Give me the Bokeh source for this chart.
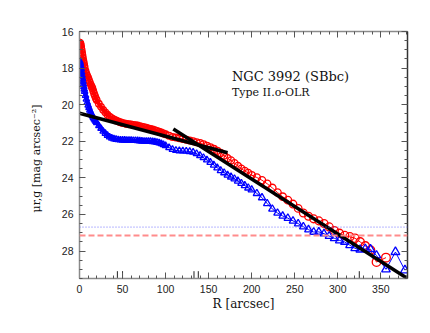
from bokeh.plotting import figure
from bokeh.models import (LinearAxis, SingleIntervalTicker, Label, Span, Range1d, CustomLabelingPolicy)
from bokeh.embed import file_html
from bokeh.resources import INLINE

# ---- data ----
R_r = [0, 0.5, 1, 1.5, 2, 2.5, 3, 3.5, 4, 4.5, 5, 5.5, 6, 7, 8, 9, 10, 11, 12, 13, 14, 15, 16, 17, 18, 19, 20,
       22.5, 25, 27.5, 30, 32.5, 35, 37.5, 40, 42.5, 45, 47.5, 50, 52.5, 55, 57.5, 60, 62.5, 65, 67.5, 70,
       72.5, 75, 77.5, 80, 82.5, 85, 87.5, 90, 92.5, 95, 97.5, 100,
       104, 108, 112, 116, 120, 124, 128, 132, 136, 140, 144, 148, 152, 156, 160, 164, 168, 172, 176, 180,
       184, 188, 192, 196, 200, 206, 212, 218, 224, 230, 236, 242, 248, 254, 260, 266, 272, 278, 284, 290,
       296, 302, 308, 314, 320, 326, 332, 338, 345, 356]
mu_r = [16.60, 16.62, 16.65, 16.72, 16.85, 17.0, 17.15, 17.3, 17.45, 17.6, 17.72, 17.84, 17.95, 18.15, 18.3,
        18.42, 18.52, 18.65, 18.78, 18.9, 19.0, 19.1, 19.25, 19.4, 19.52, 19.65, 19.75,
        19.95, 20.12, 20.28, 20.42, 20.55, 20.65, 20.73, 20.8, 20.86, 20.92, 20.96, 21.0, 21.03, 21.05, 21.07,
        21.08, 21.1, 21.12, 21.14, 21.17, 21.2, 21.23, 21.26, 21.3, 21.33, 21.36, 21.4, 21.44, 21.48, 21.52,
        21.57, 21.62,
        21.7, 21.76, 21.8, 21.84, 21.88, 21.92, 21.96, 22.0, 22.05, 22.1, 22.17, 22.25, 22.33, 22.42, 22.52,
        22.64, 22.78, 22.92, 23.05, 23.2, 23.35, 23.5, 23.62, 23.73, 23.85, 23.98, 24.13, 24.32, 24.55, 24.8,
        25.03, 25.22, 25.43, 25.67, 25.92, 26.1, 26.24, 26.35, 26.5, 26.68, 26.88, 27.03, 27.15, 27.22, 27.3,
        27.5, 27.72, 27.95, 28.6, 28.36]

R_g = [0, 0.5, 1, 1.5, 2, 2.5, 3, 3.5, 4, 4.5, 5, 5.5, 6, 7, 8, 9, 10, 11, 12, 13, 14, 15, 16, 17, 18, 19, 20,
       22.5, 25, 27.5, 30, 32.5, 35, 37.5, 40, 42.5, 45, 47.5, 50, 52.5, 55, 57.5, 60, 62.5, 65, 67.5, 70,
       72.5, 75, 77.5, 80, 82.5, 85, 87.5, 90, 92.5, 95, 97.5, 100,
       104, 108, 112, 116, 120, 124, 128, 132, 136, 140, 144, 148, 152, 156, 160, 164, 168, 172, 176, 180,
       184, 188, 192, 196, 200, 206, 212, 218, 224, 230, 236, 242, 248, 254, 260, 266, 272, 278, 284, 290,
       296, 302, 308, 314, 320, 326, 332, 338, 345, 356, 367, 378]
mu_g = [17.6, 17.65, 17.75, 17.9, 18.05, 18.22, 18.4, 18.57, 18.73, 18.88, 19.02, 19.15, 19.28, 19.5, 19.7,
        19.88, 20.03, 20.17, 20.3, 20.42, 20.52, 20.62, 20.7, 20.78, 20.85, 20.92, 20.98,
        21.15, 21.3, 21.45, 21.57, 21.68, 21.77, 21.83, 21.87, 21.9, 21.92, 21.93, 21.94, 21.94, 21.95,
        21.95, 21.95, 21.96, 21.96, 21.97, 21.98, 21.99, 22.0, 22.0, 22.0, 22.01, 22.02, 22.04, 22.06,
        22.09, 22.13, 22.18, 22.24,
        22.35, 22.45, 22.5, 22.52, 22.53, 22.54, 22.56, 22.6, 22.68, 22.78, 22.9, 23.02, 23.15, 23.3, 23.45,
        23.6, 23.72, 23.85, 23.95, 24.05, 24.17, 24.3, 24.42, 24.55, 24.65, 24.85, 25.08, 25.4, 25.7, 25.92,
        26.08, 26.2, 26.35, 26.5, 26.67, 26.83, 26.96, 26.95, 27.05, 27.18, 27.3, 27.42, 27.5, 27.68, 27.85,
        27.92, 27.88, 27.9, 28.24, 29.0, 28.05, 29.05]

fit_inner_R = [0, 172]
fit_inner_mu = [20.47, 22.63]
fit_outer_R = [109, 385]
fit_outer_mu = [21.33, 29.62]

limit_g = 26.69
limit_r = 27.15
break_R = [44, 50, 133, 138, 325]

x_ticks_major = 50
y_ticks_major = 2

title = "NGC 3992 (SBbc)"
subtitle = "Type II.o-OLR"
xlabel = "R [arcsec]"
ylabel = "\u03bcr,g  [mag  arcsec\u207b\u00b2]"

# ---- figure ----
p = figure(width=422, height=325, x_range=Range1d(0, 381), y_range=Range1d(29.5, 16),
           output_backend="svg", toolbar_location=None,
           x_axis_location=None, y_axis_location=None,
           min_border_left=79, min_border_right=5, min_border_top=31, min_border_bottom=47)
p.outline_line_color = None
p.background_fill_color = "white"
p.border_fill_color = "white"
p.grid.visible = False

AX = "#8a8a8a"
TK = "#555555"
SERIF = "DejaVu Serif"

def mk_axis(loc, labels, interval, minors, line_color=AX, label=None, standoff=0, label_size="11px"):
    ax = LinearAxis(ticker=SingleIntervalTicker(interval=interval, num_minor_ticks=minors))
    ax.axis_line_color = line_color
    ax.axis_line_width = 1.5
    ax.major_tick_in = 6
    ax.major_tick_out = 0
    ax.minor_tick_in = 3
    ax.minor_tick_out = 0
    ax.major_tick_line_color = TK
    ax.minor_tick_line_color = TK
    ax.major_tick_line_width = 1
    ax.minor_tick_line_width = 1
    if labels:
        ax.major_label_text_font = "Liberation Sans"
        ax.major_label_text_font_size = "10.5px"
        ax.major_label_text_color = "#222222"
        ax.major_label_standoff = 6
    else:
        ax.major_label_policy = CustomLabelingPolicy(
            code="for (const i of indices) { indices.unset(i) }\nreturn indices")
        ax.major_label_standoff = 0
    if label is not None:
        ax.axis_label = label
        ax.axis_label_text_font = SERIF
        ax.axis_label_text_font_size = label_size
        ax.axis_label_text_font_style = "normal"
        ax.axis_label_text_color = "#111111"
        ax.axis_label_standoff = standoff
    p.add_layout(ax, loc)
    return ax

mk_axis("below", True, x_ticks_major, 5, label=xlabel, standoff=1, label_size="12px")
mk_axis("above", False, x_ticks_major, 5)
mk_axis("left", True, y_ticks_major, 4, label=ylabel, standoff=16, label_size="11px")
mk_axis("right", False, y_ticks_major, 4, line_color="#333333")

# limit lines
p.add_layout(Span(location=limit_g, dimension="width", line_color="#6f6fff", line_width=1,
                  line_dash="1 2"))
p.add_layout(Span(location=limit_r, dimension="width", line_color="#ff8c8c", line_width=2,
                  line_dash="6 3"))

# profiles: dense inner samples overlap into a solid band
n_in_r = sum(1 for r in R_r if r <= 100)
n_in_g = sum(1 for r in R_g if r <= 100)
size_r = [6.5 + 2.5 * (r / 380.0) ** 2 for r in R_r]
size_g = [6.5 + 2.5 * (r / 380.0) ** 2 for r in R_g]
p.line(R_r[:n_in_r], mu_r[:n_in_r], line_color="red", line_width=4)
p.line(R_r, mu_r, line_color="red", line_width=1)
p.scatter(R_r, mu_r, marker="circle", size=size_r, fill_color=None, line_color="red", line_width=1.3)
p.line(R_g[:n_in_g], mu_g[:n_in_g], line_color="blue", line_width=4)
p.line(R_g, mu_g, line_color="blue", line_width=1)
p.scatter(R_g, mu_g, marker="triangle", size=size_g, fill_color=None, line_color="blue", line_width=1.3)

# fits
p.line(fit_inner_R, fit_inner_mu, line_color="black", line_width=3.5)
p.line(fit_outer_R, fit_outer_mu, line_color="black", line_width=3.5)

# break markers (inner part of the tall ticks on the R axis)
p.segment(x0=break_R, y0=[29.5] * len(break_R), x1=break_R, y1=[29.1] * len(break_R),
          line_color="#222222", line_width=1)

# texts
p.add_layout(Label(x=177, y=18.03, text=title, text_font=SERIF, text_font_size="13px",
                   text_font_style="normal", text_align="left", text_baseline="top", text_color="#111111"))
p.add_layout(Label(x=177, y=18.96, text=subtitle, text_font=SERIF, text_font_size="11px",
                   text_font_style="normal", text_align="left", text_baseline="top", text_color="#111111"))

open("out.html", "w").write(file_html(p, INLINE))
